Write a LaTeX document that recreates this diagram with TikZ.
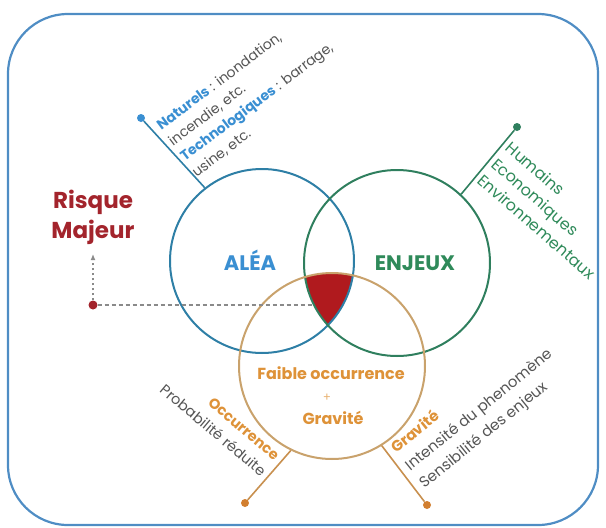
\documentclass[tikz,border=0pt]{standalone}
\usepackage{fontspec}
\setmainfont{Poppins}
\usetikzlibrary{arrows.meta,calc}
\definecolor{framec}{HTML}{4F8DC4}
\definecolor{aleac}{HTML}{2E7FA6}
\definecolor{aleat}{HTML}{3A8FD2}
\definecolor{enjc}{HTML}{2F7F5E}
\definecolor{enjt}{HTML}{2F8A5A}
\definecolor{occc}{HTML}{C9A26C}
\definecolor{occt}{HTML}{DE9238}
\definecolor{occl}{HTML}{C8904F}
\definecolor{occd}{HTML}{D27F2F}
\definecolor{redfill}{HTML}{B01A1E}
\definecolor{riskc}{HTML}{A3242C}
\definecolor{graytxt}{HTML}{555555}
\definecolor{dashc}{HTML}{8A8A8A}
\begin{document}
\begin{tikzpicture}[x=1pt,y=-1pt,
  ring/.style={circle, draw, line width=2pt, minimum size=#1, inner sep=0pt},
  calldot/.style={circle, fill, inner sep=0pt, minimum size=8pt},
  callline/.style={line width=1.6pt},
  bigword/.style={font=\fontsize{21}{25}\selectfont\bfseries, inner sep=0pt},
  sidetxt/.style={text=graytxt, inner sep=0pt, align=left},
  dashline/.style={dashc, line width=1.3pt, dash pattern=on 4pt off 3pt},
  dotline/.style={dashc, line width=1.2pt, dash pattern=on 2pt off 3pt}
]
\useasboundingbox (0,0) rectangle (606,528);
% frame
\draw[framec, line width=2.2pt, rounded corners=60pt] (8,14) rectangle (598,525);
% red intersection
\begin{scope}
  \clip (262,261) circle (92);
  \clip (397,263) circle (93);
  \fill[redfill] (332,366) circle (93);
\end{scope}
% circles
\node[ring=184pt, draw=aleac] (alea) at (262,261) {};
\node[ring=186pt, draw=enjc] (enjeux) at (397,263) {};
\node[ring=186pt, draw=occc] (occ) at (332,366) {};
% labels in circles
\node[bigword, text=aleat, anchor=base] (lalea) at (250,270) {ALÉA};
\node[bigword, text=enjt, anchor=base] (lenj) at (415,270) {ENJEUX};
\node[font=\fontsize{16}{20}\selectfont\bfseries, text=occt, anchor=base, inner sep=0pt] (faible) at (331,379) {Faible occurrence};
\node[font=\fontsize{12}{14}\selectfont, text=occt!70, inner sep=0pt] (plus) at (327,398) {+};
\node[font=\fontsize{16}{20}\selectfont\bfseries, text=occt, anchor=base, inner sep=0pt] (grav) at (333,424) {Gravité};
% Risque majeur
\node[font=\fontsize{23}{30}\selectfont\bfseries, text=riskc, align=center, anchor=north, inner sep=0pt] (risk) at (93,190) {Risque\\Majeur};
\node[calldot, fill=riskc, minimum size=9pt] (rdot) at (93,305) {};
\coordinate (rtip) at (93,254);
\coordinate (dend) at (314,305);
\draw[dashline] (rdot) -- (dend);
\draw[dotline, -{Latex[length=6pt,width=5pt]}] (rdot) -- (rtip);
% blue callout
\node[calldot, fill=aleat] (bdot) at (141,118) {};
\draw[callline, draw=aleac] (bdot) -- (alea.128);
\node[sidetxt, font=\fontsize{14}{19.5}\selectfont, rotate=37, anchor=north west] (btxt) at (154.7,122.2)
  {\textbf{\color{aleat}Naturels} : inondation,\\incendie, etc.\\\textbf{\color{aleat}Technologiques} : barrage,\\usine, etc.};
% green callout
\node[calldot, fill=enjc] (gdot) at (517,127) {};
\draw[callline, draw=enjc] (gdot) -- (enjeux.47);
\node[sidetxt, text=enjt, font=\fontsize{16}{21.5}\selectfont, rotate=-41, anchor=north west] (gtxt) at (512.7,140.3)
  {Humains\\Economiques\\Environnementaux};
% orange left callout
\node[calldot, fill=occd] (odl) at (245,503) {};
\draw[callline, draw=occl] (odl) -- (occ.244);
\node[sidetxt, align=right, font=\fontsize{14.5}{21}\selectfont, rotate=-40, anchor=north east] (otl) at (281,453)
  {\textbf{\color{occt}Occurrence}\\Probabilité réduite};
% orange right callout
\node[calldot, fill=occd] (odr) at (427,505) {};
\draw[callline, draw=occl] (odr) -- (occ.302);
\node[sidetxt, font=\fontsize{15}{22.5}\selectfont, rotate=39, anchor=north west] (otr) at (388,444)
  {\textbf{\color{occt}Gravité}\\Intensité du phenomène\\Sensibilité des enjeux};
\end{tikzpicture}
\end{document}
